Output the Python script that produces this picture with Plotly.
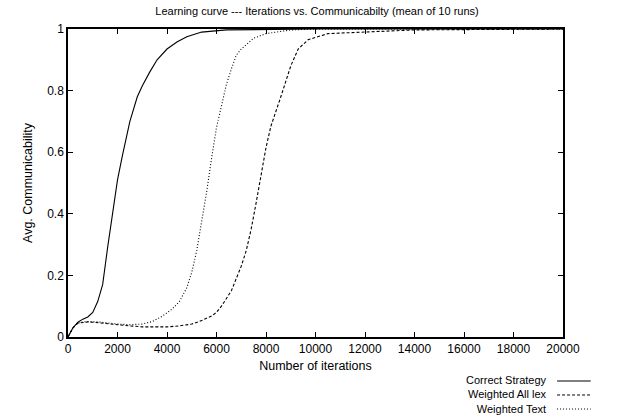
import plotly.graph_objects as go

# ---- data ----
correct_x = [0, 100, 200, 400, 600, 800, 1000, 1200, 1400, 1600, 1800, 2000, 2200, 2500,
             2800, 3000, 3300, 3600, 4000, 4400, 4800, 5400, 6400, 8000, 10000, 14000, 20000]
correct_y = [0, 0.015, 0.03, 0.048, 0.058, 0.065, 0.08, 0.115, 0.17, 0.29, 0.4, 0.51, 0.59, 0.7,
             0.78, 0.815, 0.86, 0.9, 0.935, 0.958, 0.975, 0.99, 0.997, 0.999, 1.0, 1.0, 1.0]

alllex_x = [0, 100, 200, 400, 600, 800, 1000, 1500, 2000, 2500, 3000, 3500, 4000, 4500, 5000,
            5300, 5600, 5800, 6000, 6200, 6400, 6600, 6800, 7000, 7200, 7400, 7600, 7800, 8000,
            8200, 8400, 8600, 8800, 9000, 9300, 9700, 10500, 12000, 14000, 20000]
alllex_y = [0, 0.015, 0.03, 0.045, 0.048, 0.049, 0.048, 0.045, 0.04, 0.036, 0.033, 0.033, 0.033,
            0.036, 0.042, 0.05, 0.06, 0.068, 0.08, 0.1, 0.125, 0.15, 0.19, 0.23, 0.28, 0.35, 0.435,
            0.52, 0.615, 0.685, 0.73, 0.78, 0.83, 0.88, 0.935, 0.965, 0.985, 0.99, 0.997, 1.0]

text_x = [0, 100, 200, 400, 600, 800, 1000, 1200, 1600, 2000, 2500, 3000, 3400, 3800, 4200,
          4500, 4800, 5000, 5200, 5400, 5600, 5800, 6000, 6200, 6400, 6600, 6800, 7000, 7500,
          8000, 8500, 9000, 10000, 20000]
text_y = [0, 0.015, 0.03, 0.045, 0.049, 0.05, 0.05, 0.049, 0.046, 0.042, 0.04, 0.042, 0.05,
          0.067, 0.09, 0.115, 0.16, 0.21, 0.28, 0.37, 0.47, 0.58, 0.68, 0.75, 0.82, 0.87, 0.915,
          0.935, 0.97, 0.985, 0.992, 0.997, 1.0, 1.0]

series_names = ["Correct Strategy", "Weighted All lex", "Weighted Text"]
x_ticks = [0, 2000, 4000, 6000, 8000, 10000, 12000, 14000, 16000, 18000, 20000]
y_ticks = [0, 0.2, 0.4, 0.6, 0.8, 1]
y_tick_labels = ["0", "0.2", "0.4", "0.6", "0.8", "1"]

FONT = "Liberation Sans, Arial, sans-serif"
dashes = ["solid", "3px,2px", "1px,2px"]

fig = go.Figure()
for name, xs, ys, d in zip(series_names, [correct_x, alllex_x, text_x],
                           [correct_y, alllex_y, text_y], dashes):
    fig.add_trace(go.Scatter(x=xs, y=ys, mode="lines", name=name,
                             line=dict(color="black", width=1.1, dash=d),
                             showlegend=False))

# custom gnuplot-style legend (text right-aligned, sample on the right)
leg_y = [-0.1429, -0.1883, -0.2338]
fig.add_annotation(x=0.972, y=leg_y[1], xref="paper", yref="paper",
                   text="<br>".join(series_names), align="right",
                   showarrow=False, xanchor="right", yanchor="middle",
                   font=dict(family=FONT, size=11, color="black"))
for d, yy in zip(dashes, leg_y):
    fig.add_shape(type="line", xref="paper", yref="paper", x0=0.988, x1=1.056,
                  y0=yy, y1=yy, line=dict(color="black", width=1, dash=d))

axis_common = dict(showgrid=False, zeroline=False, showline=True, linecolor="black",
                   linewidth=1.5, mirror="allticks", ticks="inside", ticklen=5,
                   tickcolor="black", tickwidth=1,
                   tickfont=dict(family=FONT, size=12, color="black"))

fig.update_xaxes(range=[0, 20000], tickvals=x_ticks, ticktext=[str(v) for v in x_ticks],
                 title=dict(text="Number of iterations", standoff=6,
                            font=dict(family=FONT, size=12.5, color="black")),
                 **axis_common)
fig.update_yaxes(range=[0, 1], tickvals=y_ticks, ticktext=y_tick_labels,
                 title=dict(text="Avg. Communicability", standoff=12,
                            font=dict(family=FONT, size=12.5, color="black")),
                 **axis_common)

fig.update_layout(
    width=634, height=416,
    margin=dict(l=68, r=71, t=29, b=79),
    paper_bgcolor="white", plot_bgcolor="white",
    title=dict(text="Learning curve --- Iterations vs. Communicabilty (mean of 10 runs)",
               x=0.5, xanchor="center", y=0.972, yanchor="middle",
               font=dict(family=FONT, size=11, color="black")),
    font=dict(family=FONT, size=12, color="black"),
)

fig.write_html("out.html", config={"displayModeBar": False},
               post_script="document.body.style.margin='0';document.body.style.overflow='hidden';")
